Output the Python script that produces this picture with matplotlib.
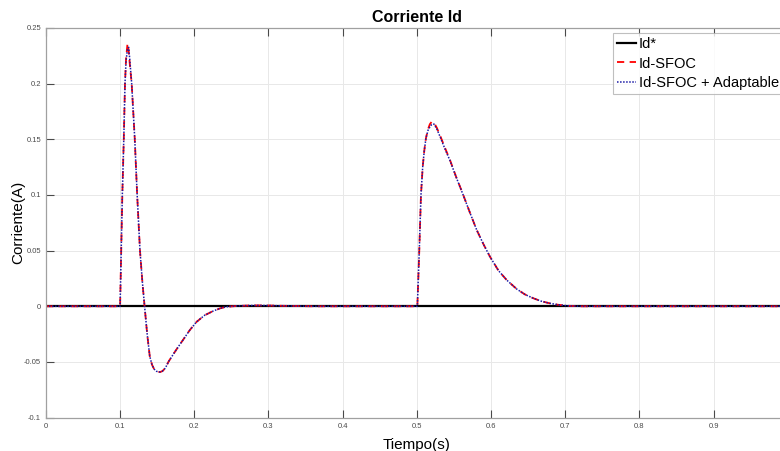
import matplotlib
matplotlib.use("Agg")
import matplotlib.pyplot as plt

plt.rcParams['font.family'] = ['Liberation Sans', 'DejaVu Sans']

# Id* reference
t_ref = [0.0, 1.0]
id_ref = [0.0, 0.0]

# Time samples (s)
t = [0.0, 0.1, 0.1015, 0.103, 0.105, 0.1066, 0.108, 0.110, 0.1115, 0.113, 0.1156,
     0.1197, 0.123, 0.1268, 0.130, 0.133, 0.1365, 0.140, 0.143, 0.146, 0.149, 0.1515,
     0.154, 0.157, 0.161, 0.165, 0.170, 0.175, 0.180, 0.185, 0.194, 0.203, 0.214, 0.2256,
     0.235, 0.2437, 0.26, 0.28, 0.30, 0.33, 0.36, 0.5, 0.5006, 0.5032, 0.5055, 0.5078,
     0.510, 0.5122, 0.515, 0.5175, 0.520, 0.523, 0.527, 0.532, 0.538, 0.5446, 0.553,
     0.5625, 0.5715, 0.5806, 0.5895, 0.5985, 0.61, 0.621, 0.6345, 0.646, 0.657, 0.668,
     0.679, 0.69, 0.702, 0.72, 1.0]

# Id-SFOC (A)
id_sfoc = [0.0, 0.0, 0.05, 0.1, 0.151, 0.2, 0.222, 0.236, 0.230, 0.218, 0.2,
           0.151, 0.1, 0.05, 0.022, 0.0, -0.025, -0.045, -0.0525, -0.0565, -0.0583, -0.0589,
           -0.0590, -0.0582, -0.0555, -0.0500, -0.0448, -0.0397, -0.0348, -0.0300, -0.0213, -0.0140, -0.0080, -0.0042,
           -0.0018, -0.0004, 0.0004, 0.0008, 0.0007, 0.0003, 0.0, 0.0, 0.0, 0.05, 0.1, 0.125,
           0.140, 0.151, 0.159, 0.1635, 0.1657, 0.165, 0.160, 0.152, 0.142, 0.1313, 0.116,
           0.0999, 0.084, 0.0685, 0.056, 0.0445, 0.032, 0.0236, 0.0155, 0.0105, 0.0072, 0.0045,
           0.0027, 0.0014, 0.0005, 0.0, 0.0]

# Id-SFOC + Adaptable (A)
id_adapt = [0.0, 0.0, 0.05, 0.1, 0.151, 0.2, 0.220, 0.2315, 0.2325, 0.222, 0.2,
            0.151, 0.1, 0.05, 0.022, 0.0, -0.025, -0.045, -0.0525, -0.0565, -0.0583, -0.0589,
            -0.0590, -0.0582, -0.0555, -0.0500, -0.0448, -0.0397, -0.0348, -0.0300, -0.0213, -0.0140, -0.0080, -0.0042,
            -0.0018, -0.0004, 0.0004, 0.0008, 0.0007, 0.0003, 0.0, 0.0, 0.0, 0.05, 0.1, 0.125,
            0.140, 0.151, 0.158, 0.161, 0.1632, 0.1636, 0.159, 0.151, 0.141, 0.1308, 0.1158,
            0.0997, 0.084, 0.0685, 0.056, 0.0445, 0.032, 0.0236, 0.0155, 0.0105, 0.0072, 0.0045,
            0.0027, 0.0014, 0.0005, 0.0, 0.0]

xticks = [0, 0.1, 0.2, 0.3, 0.4, 0.5, 0.6, 0.7, 0.8, 0.9]
xticklabels = ['0', '0.1', '0.2', '0.3', '0.4', '0.5', '0.6', '0.7', '0.8', '0.9']
yticks = [-0.1, -0.05, 0, 0.05, 0.1, 0.15, 0.2, 0.25]
yticklabels = ['-0.1', '-0.05', '0', '0.05', '0.1', '0.15', '0.2', '0.25']

fig = plt.figure(figsize=(7.8, 4.51), dpi=100)
ax = fig.add_axes([45.9 / 780, 33.3 / 451, 742 / 780, 389.9 / 451])

ax.plot(t_ref, id_ref, color='black', lw=1.6, label='Id*')
ax.plot(t, id_sfoc, color='#ff0000', lw=1.3, ls=(0, (4, 3)), label='Id-SFOC')
ax.plot(t, id_adapt, color='#1a1aa6', lw=1.1, ls=(0, (1, 1)), label='Id-SFOC + Adaptable')

ax.set_xlim(0, 1)
ax.set_ylim(-0.1, 0.25)
ax.set_xticks(xticks)
ax.set_xticklabels(xticklabels)
ax.set_yticks(yticks)
ax.set_yticklabels(yticklabels)
ax.tick_params(labelsize=5.5, colors='#4a4a4a', length=6, width=0.8, direction='in',
               top=True, right=True)
for s in ax.spines.values():
    s.set_color('#a0a0a0')
    s.set_linewidth(0.9)
ax.grid(True, color='#e8e8e8', lw=0.7)
ax.set_axisbelow(True)

ax.set_title('Corriente Id', fontsize=11.5, fontweight='bold', pad=4)
ax.set_xlabel('Tiempo(s)', fontsize=11, labelpad=6)
ax.set_ylabel('Corriente(A)', fontsize=11)
ax.yaxis.set_label_coords((25 - 45.9) / 742, 0.5)

leg = ax.legend(loc='upper right', fontsize=10.5, frameon=True, fancybox=False,
                borderpad=0.3, labelspacing=0.38, handlelength=1.3, handletextpad=0.15,
                borderaxespad=0.33)
leg.get_frame().set_edgecolor('#b0b0b0')
leg.get_frame().set_linewidth(0.8)

fig.savefig('out.png', dpi=100)
